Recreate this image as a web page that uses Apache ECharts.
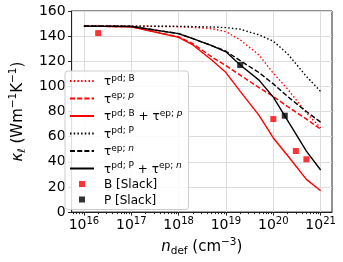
<!DOCTYPE html>
<html>
<head>
<meta charset="utf-8">
<script src="https://cdn.jsdelivr.net/npm/echarts@6/dist/echarts.min.js"></script>
<style>
html,body{margin:0;padding:0;background:#fff;}
#chart{width:343px;height:262px;}
</style>
</head>
<body>
<div id="chart"></div>
<script>
// ---- data ----
const nDef = [1e16, 1e17, 1e18, 2e18, 5e18, 1e19, 2e19, 5e19, 1e20, 2e20, 5e20, 1e21];
const kPdB      = [148, 148, 147.5, 147, 146, 143.5, 137, 125, 110.5, 98, 79, 67];
const kEpP      = [148, 147.5, 139.5, 134, 123.5, 116.5, 109, 99, 92, 84, 74, 66];
const kPdBEpP   = [148, 147.5, 139, 133, 121, 111, 96, 77, 59, 45, 26, 17];
const kPdP      = [148, 148, 147.8, 147.6, 147.3, 146.8, 145.5, 141, 136, 126, 108, 96];
const kEpN      = [148, 147.8, 142, 138, 132.5, 128, 120.5, 111, 102, 92, 80, 71.5];
const kPdPEpN   = [148, 147.7, 142, 138, 132.5, 127.5, 117, 105, 91.5, 73, 48.5, 33.5];
const slackBN = [2e16, 1e20, 3e20, 5e20];
const slackBK = [142.4, 74, 48.6, 42];
const slackPN = [2e19, 1.75e20];
const slackPK = [117, 76.7];
const xTickExps = [16, 17, 18, 19, 20, 21];
const xMin = 15.74, xMax = 21.24;
const yMin = 0, yMax = 160, yStep = 20;

// minor ticks on log axis
const minorTicks = [];
for (let e = 15; e <= 21; e++) {
  for (let m = 2; m <= 9; m++) {
    const v = e + Math.log10(m);
    if (v > xMin && v < xMax) minorTicks.push(v);
  }
}

const FONT = 'DejaVu Sans';
const toPts = (xs, ys) => xs.map((n, i) => [Math.log10(n), ys[i]]);

const legendLabels = {
  pdB: '{t|τ}{s|pd; B}',
  epP: '{t|τ}{s|ep; }{si|p}',
  pdBepP: '{t|τ}{s|pd; B}{t| + τ}{s|ep; }{si|p}',
  pdP: '{t|τ}{s|pd; P}',
  epN: '{t|τ}{s|ep; }{si|n}',
  pdPepN: '{t|τ}{s|pd; P}{t| + τ}{s|ep; }{si|n}',
  slackB: '{t|B [Slack]}',
  slackP: '{t|P [Slack]}'
};

function lineSeries(name, data, color, type) {
  return {
    name: name, type: 'line', data: toPts(nDef, data),
    symbol: 'none', smooth: false,
    lineStyle: {color: color, width: 1.4, type: type},
    itemStyle: {color: color},
    z: 3
  };
}

const chart = echarts.init(document.getElementById('chart'), null, {renderer: 'canvas'});
const square = 'path://M0,0L10,0L10,10L0,10Z';
const noSym = {color: 'rgba(0,0,0,0)', borderWidth: 0, opacity: 0};

const TL = 20;
const titleRich = {
  i: {fontSize: 15, fontFamily: FONT, fontStyle: 'italic', lineHeight: TL, verticalAlign: 'middle', color: '#000'},
  sub: {fontSize: 10.5, fontFamily: FONT, lineHeight: TL, verticalAlign: 'bottom', color: '#000'},
  subi: {fontSize: 10.5, fontFamily: FONT, fontStyle: 'italic', lineHeight: TL, verticalAlign: 'bottom', color: '#000'},
  n: {fontSize: 15, fontFamily: FONT, lineHeight: TL, verticalAlign: 'middle', color: '#000'},
  sup: {fontSize: 10.5, fontFamily: FONT, lineHeight: TL, verticalAlign: 'top', color: '#000'}
};

chart.setOption({
  animation: false,
  backgroundColor: '#fff',
  textStyle: {fontFamily: FONT},
  grid: {left: 59, right: 11, top: 11, bottom: 47, show: true, borderColor: '#222', borderWidth: 1},
  xAxis: [{
    type: 'value', min: xMin, max: xMax,
    axisLine: {show: true, lineStyle: {color: '#222', width: 1}},
    axisTick: {show: true, inside: false, length: 3.5, customValues: xTickExps, lineStyle: {color: '#222'}},
    axisLabel: {
      customValues: xTickExps, margin: 4, color: '#000',
      formatter: v => '{b|10}{s|' + Math.round(v) + '}',
      rich: {
        b: {fontSize: 14, fontFamily: FONT, lineHeight: 16, verticalAlign: 'bottom', color: '#000'},
        s: {fontSize: 10, fontFamily: FONT, lineHeight: 16, verticalAlign: 'top', color: '#000'}
      }
    },
    splitLine: {show: true, lineStyle: {color: '#dcdcdc', width: 1}},
    name: '{i|n}{sub|def}{n| (cm}{sup|−3}{n|)}',
    nameLocation: 'middle', nameGap: 23,
    nameTextStyle: {rich: titleRich}
  }, {
    type: 'value', min: xMin, max: xMax, position: 'bottom', gridIndex: 0,
    axisLine: {show: false},
    axisTick: {show: true, inside: false, length: 2, customValues: minorTicks, lineStyle: {color: '#222'}},
    axisLabel: {show: false},
    splitLine: {show: false}
  }],
  yAxis: {
    type: 'value', min: yMin, max: yMax, interval: yStep,
    axisLine: {show: true, lineStyle: {color: '#222', width: 1}},
    axisTick: {show: true, inside: false, length: 3.5, lineStyle: {color: '#222'}},
    axisLabel: {fontSize: 14, fontFamily: FONT, color: '#000', margin: 6},
    splitLine: {show: true, lineStyle: {color: '#dcdcdc', width: 1}},
    name: '{i|κ}{subi|ℓ}{n| (Wm}{sup|−1}{n|K}{sup|−1}{n|)}',
    nameLocation: 'middle', nameGap: 36, nameRotate: 90,
    nameTextStyle: {rich: titleRich}
  },
  legend: {
    orient: 'vertical', left: 65, top: 71,
    padding: [3, 6, 3, 4],
    itemWidth: 24, itemHeight: 6, itemGap: 3.5,
    backgroundColor: 'rgba(255,255,255,0.85)', borderColor: '#cccccc', borderWidth: 1, borderRadius: 3,
    selectedMode: false, symbolKeepAspect: true,
    data: [
      {name: 'pdB', itemStyle: noSym}, {name: 'epP', itemStyle: noSym}, {name: 'pdBepP', itemStyle: noSym},
      {name: 'pdP', itemStyle: noSym}, {name: 'epN', itemStyle: noSym}, {name: 'pdPepN', itemStyle: noSym},
      {name: 'slackB', icon: square}, {name: 'slackP', icon: square}
    ],
    formatter: name => legendLabels[name],
    textStyle: {
      padding: [0, 0, 0, 5],
      rich: {
        t: {fontSize: 12, fontFamily: FONT, lineHeight: 14, verticalAlign: 'bottom', color: '#000'},
        s: {fontSize: 9, fontFamily: FONT, lineHeight: 14, verticalAlign: 'top', color: '#000'},
        si: {fontSize: 9, fontFamily: FONT, fontStyle: 'italic', lineHeight: 14, verticalAlign: 'top', color: '#000'}
      }
    }
  },
  series: [
    lineSeries('pdB', kPdB, '#ff0000', [1.5, 2.2]),
    lineSeries('epP', kEpP, '#ff0000', [5, 2.2]),
    lineSeries('pdBepP', kPdBEpP, '#ff0000', 'solid'),
    lineSeries('pdP', kPdP, '#000000', [1.5, 2.2]),
    lineSeries('epN', kEpN, '#000000', [5, 2.2]),
    lineSeries('pdPepN', kPdPEpN, '#000000', 'solid'),
    {name: 'slackB', type: 'scatter', data: toPts(slackBN, slackBK), symbol: 'rect', symbolSize: 6,
     itemStyle: {color: '#ff0000'}, z: 5},
    {name: 'slackP', type: 'scatter', data: toPts(slackPN, slackPK), symbol: 'rect', symbolSize: 6,
     itemStyle: {color: '#000000'}, z: 5}
  ]
});
</script>
</body>
</html>
